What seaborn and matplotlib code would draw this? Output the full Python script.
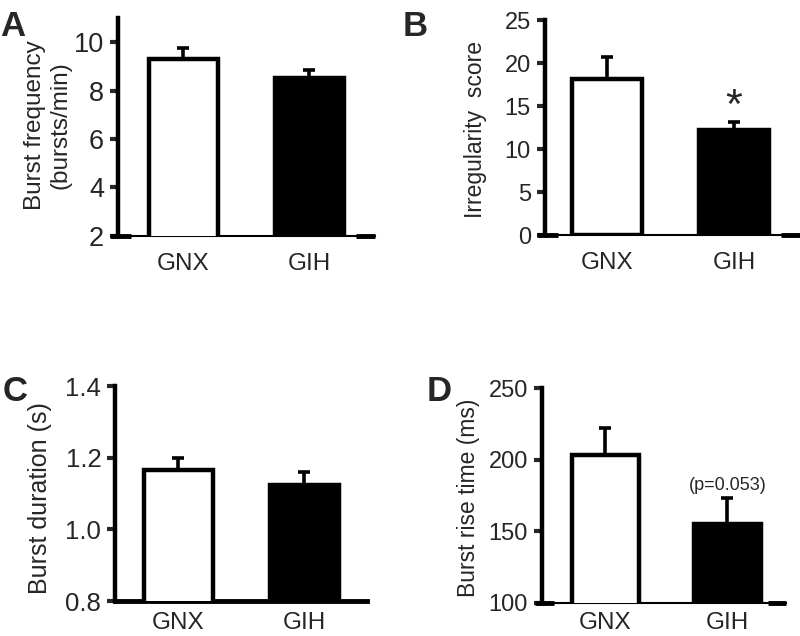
import numpy as np
import matplotlib
matplotlib.use("Agg")
import matplotlib.pyplot as plt
import seaborn as sns

# datos de los cuatro paneles
groups = ["GNX", "GIH"]

freq_mean = [9.3, 8.52]
freq_sem = [0.45, 0.33]

irreg_mean = [18.2, 12.2]
irreg_sem = [2.5, 0.9]

dur_mean = [1.165, 1.123]
dur_sem = [0.035, 0.037]

rise_mean = [203, 155]
rise_sem = [19, 18]

sns.set_style("white")
plt.rcParams["font.family"] = ["Liberation Sans", "DejaVu Sans"]

fig = plt.figure(figsize=(8, 6.36), dpi=100)

panels = [
    # letra, medias, sem, ylabel, ylim, yticks, rect, xlim, pos letra, eje grueso,
    # tamaño ticks, tamaño ylabel, coords ylabel, pad x
    ("A", freq_mean, freq_sem, "Burst frequency\n(bursts/min)", (2, 11), [2, 4, 6, 8, 10],
     [0.1475, 0.629, 0.321, 0.343], (-0.52, 1.52), (0.0, 0.985), False,
     19.5, 17.5, (-0.18, 0.51), 12),
    ("B", irreg_mean, irreg_sem, "Irregularity  score", (0, 25), [0, 5, 10, 15, 20, 25],
     [0.681, 0.6305, 0.319, 0.338], (-0.49, 1.52), (0.503, 0.985), False,
     17, 16.5, (-0.225, 0.49), 12),
    ("C", dur_mean, dur_sem, "Burst duration (s)", (0.8, 1.4), [0.8, 1.0, 1.2, 1.4],
     [0.144, 0.055, 0.315, 0.338], (-0.5, 1.5), (0.003, 0.41), True,
     18.5, 18, (-0.25, 0.48), 8),
    ("D", rise_mean, rise_sem, "Burst rise time (ms)", (100, 250), [100, 150, 200, 250],
     [0.6775, 0.0519, 0.305, 0.338], (-0.52, 1.48), (0.533, 0.41), False,
     17, 16.5, (-0.255, 0.49), 6.5),
]

axes = {}
for (letter, means, sems, ylab, ylim, yticks, rect, xlim, lpos, thick,
     tsize, lsize, lcoords, xpad) in panels:
    ax = fig.add_axes(rect)
    axes[letter] = ax
    sns.barplot(x=groups, y=means, hue=groups, palette=["white", "black"],
                edgecolor="black", linewidth=3.2, width=0.55, legend=False,
                ax=ax, zorder=3)
    ax.errorbar([0, 1], means, yerr=[np.zeros(2), sems], fmt="none",
                ecolor="black", elinewidth=2.6, capsize=4.5, capthick=2.6, zorder=2)
    ax.set_ylim(*ylim)
    ax.set_xlim(*xlim)
    ax.set_yticks(yticks)
    if letter == "C":
        ax.set_yticklabels([f"{t:.1f}" for t in yticks])
    ax.set_ylabel(ylab, fontsize=lsize, linespacing=1.2)
    ax.yaxis.set_label_coords(*lcoords)
    ax.tick_params(axis="y", direction="out", length=6, width=3, labelsize=tsize, pad=4, left=True)
    ax.tick_params(axis="x", length=0, labelsize=17.5, pad=xpad)
    ax.set_xlabel("")
    sns.despine(ax=ax)
    ax.spines["left"].set_linewidth(3.2)
    ax.spines["left"].set_color("black")
    ax.spines["bottom"].set_color("black")
    if thick:
        ax.spines["bottom"].set_linewidth(3.5)
    else:
        ax.spines["bottom"].set_linewidth(1.5)
        ax.plot([-0.03, 0.05], [0, 0], transform=ax.transAxes, color="black",
                lw=3.5, clip_on=False, solid_capstyle="butt")
        ax.plot([0.925, 1.0], [0, 0], transform=ax.transAxes, color="black",
                lw=3.5, clip_on=False, solid_capstyle="butt")
    fig.text(lpos[0], lpos[1], letter, fontsize=25, fontweight="bold", va="top", ha="left")

axes["B"].text(1, 14.9, "*", ha="center", va="center", fontsize=31)
axes["D"].text(1, 182, "(p=0.053)", ha="center", va="center", fontsize=13)

fig.savefig("out.png", dpi=100)
